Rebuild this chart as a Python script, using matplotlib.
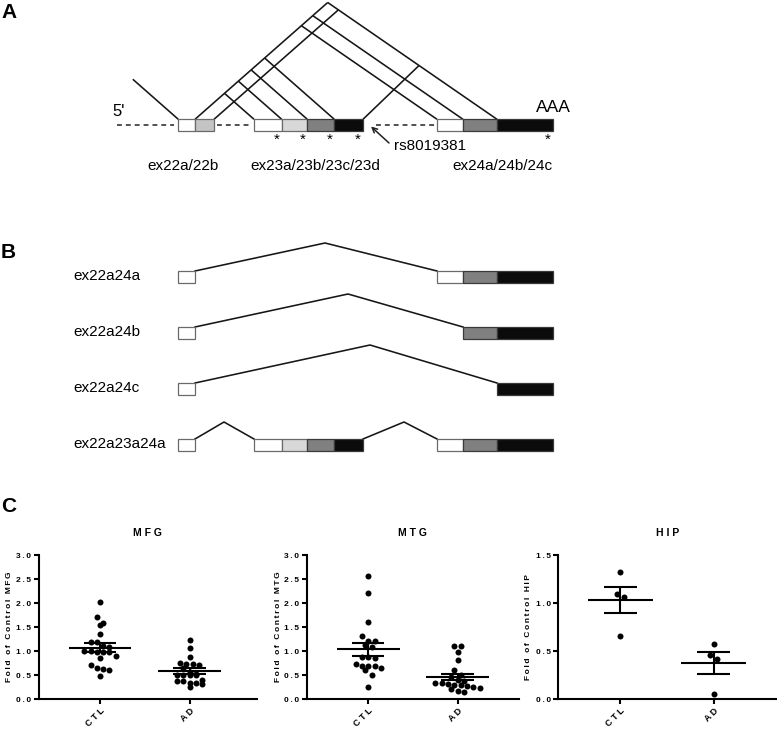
import numpy as np
import matplotlib
matplotlib.use('Agg')
import matplotlib.pyplot as plt
from matplotlib.patches import Rectangle

plt.rcParams['font.family'] = ['Liberation Sans', 'DejaVu Sans']

# ---------------- data ----------------
# Panel A: exon map (schematic units = pixels of the figure)
exon_names = ['ex22a', 'ex22b', 'ex23a', 'ex23b', 'ex23c', 'ex23d', 'ex24a', 'ex24b', 'ex24c']
exon_start = [178.3, 195.0, 254.0, 281.7, 307.3, 334.3, 437.0, 463.0, 497.0]
exon_end = [195.0, 214.0, 281.7, 307.3, 334.3, 363.0, 463.0, 497.0, 553.0]
exon_fill = ['white', '#c4c4c4', 'white', '#d8d8d8', '#808080', '#0b0b0b', 'white', '#808080', '#0b0b0b']
star_exons = ['ex23a', 'ex23b', 'ex23c', 'ex23d', 'ex24c']
intron_dashes = [(117, 174), (217, 252), (376, 435)]
group_labels = ['ex22a/22b', 'ex23a/23b/23c/23d', 'ex24a/24b/24c']
group_label_x = [183, 315, 502]
rs_label = 'rs8019381'

# Panel B: isoforms
iso_names = ['ex22a24a', 'ex22a24b', 'ex22a24c', 'ex22a23a24a']
iso_exons = [['ex22a', 'ex24a', 'ex24b', 'ex24c'],
             ['ex22a', 'ex24b', 'ex24c'],
             ['ex22a', 'ex24c'],
             ['ex22a', 'ex23a', 'ex23b', 'ex23c', 'ex23d', 'ex24a', 'ex24b', 'ex24c']]
iso_introns = [[('ex22a', 'ex24a')], [('ex22a', 'ex24b')], [('ex22a', 'ex24c')],
               [('ex22a', 'ex23a'), ('ex23d', 'ex24a')]]
iso_apex_x = [[325], [348], [370], [224, 404]]
iso_apex_rise = [[28], [33], [38], [17, 17]]

# Panel C: fold of control values
regions = ['MFG', 'MTG', 'HIP']
groups = ['CTL', 'AD']
mfg_ctl = [2.03, 1.70, 1.59, 1.54, 1.35, 1.19, 1.18, 1.11, 1.09, 1.00, 0.97,
           0.99, 0.97, 0.98, 0.86, 0.89, 0.70, 0.62, 0.60, 0.64, 0.47]
mfg_ad = [1.22, 1.06, 0.88, 0.73, 0.71, 0.72, 0.76, 0.64, 0.56, 0.50, 0.51,
          0.50, 0.51, 0.53, 0.38, 0.34, 0.34, 0.38, 0.40, 0.26, 0.32]
mtg_ctl = [2.56, 2.20, 1.61, 1.31, 1.20, 1.21, 1.13, 1.08, 0.87, 0.87, 0.85,
           0.73, 0.68, 0.68, 0.61, 0.65, 0.69, 0.50, 0.24]
mtg_ad = [1.11, 1.11, 0.98, 0.82, 0.60, 0.50, 0.46, 0.40, 0.37, 0.33, 0.32,
          0.30, 0.30, 0.28, 0.26, 0.22, 0.21, 0.16, 0.15, 0.33]
hip_ctl = [1.32, 1.09, 1.06, 0.66]
hip_ad = [0.575, 0.46, 0.415, 0.055]
region_data = {'MFG': (mfg_ctl, mfg_ad), 'MTG': (mtg_ctl, mtg_ad), 'HIP': (hip_ctl, hip_ad)}
region_ymax = {'MFG': 3.0, 'MTG': 3.0, 'HIP': 1.5}
region_yticks = {'MFG': np.arange(0, 3.01, 0.5), 'MTG': np.arange(0, 3.01, 0.5),
                 'HIP': np.arange(0, 1.51, 0.5)}

# ---------------- figure ----------------
W, H = 777, 730
fig = plt.figure(figsize=(W / 100, H / 100), dpi=100)
cv = fig.add_axes([0, 0, 1, 1])
cv.set_xlim(0, W)
cv.set_ylim(H, 0)
cv.axis('off')

LINE_C = '#161616'
LW = 1.15
BOX_H = 11.7
TXT = 11


def ex(name):
    i = exon_names.index(name)
    return exon_start[i], exon_end[i], exon_fill[i]


def draw_box(name, ytop):
    x0, x1, fc = ex(name)
    light = fc == 'white' or fc.startswith('#c') or fc.startswith('#d')
    cv.add_patch(Rectangle((x0, ytop), x1 - x0, BOX_H, facecolor=fc,
                           edgecolor='#6a6a6a' if light else '#3a3a3a',
                           lw=0.9, zorder=3))


def seg(p, q):
    cv.plot([p[0], q[0]], [p[1], q[1]], color=LINE_C, lw=LW, zorder=2,
            solid_capstyle='butt')


# ---- Panel A ----
A_TOP = 119.3
S_UP = 0.88      # slope of donor lines and exon-23 acceptor lines
S_24 = 0.69      # slope of exon-24 acceptor lines
S_23D = 0.96     # slope of line leaving exon 23d

cv.text(1, 12, 'A', fontsize=15, fontweight='bold', va='center', ha='left')
for a, b in intron_dashes:
    cv.plot([a, b], [A_TOP + BOX_H / 2] * 2, color='#222222', lw=1.1,
            dashes=(3.2, 2.6))
for n in exon_names:
    draw_box(n, A_TOP)

d1 = ex('ex22a')[1]
d2 = ex('ex22b')[1]
d3 = ex('ex23d')[1]
a0 = ex('ex22a')[0]
seg((a0 - 45.5, A_TOP - S_UP * 45.5), (a0, A_TOP))
for n in ['ex23a', 'ex23b', 'ex23c', 'ex23d']:
    acc = ex(n)[0]
    xn = (d1 + acc) / 2
    seg((xn, A_TOP - S_UP * (xn - d1)), (acc, A_TOP))
for n in ['ex24a', 'ex24b', 'ex24c']:
    acc = ex(n)[0]
    xn = (S_UP * d1 + S_24 * acc) / (S_UP + S_24)
    seg((xn, A_TOP - S_UP * (xn - d1)), (acc, A_TOP))
acc_c = ex('ex24c')[0]
x_apex = (S_UP * d1 + S_24 * acc_c) / (S_UP + S_24)
seg((d1, A_TOP), (x_apex, A_TOP - S_UP * (x_apex - d1)))
x2 = (S_UP * d2 + S_24 * acc_c) / (S_UP + S_24)
seg((d2, A_TOP), (x2, A_TOP - S_UP * (x2 - d2)))
x3 = (S_23D * d3 + S_24 * acc_c) / (S_23D + S_24)
seg((d3, A_TOP), (x3, A_TOP - S_23D * (x3 - d3)))

cv.text(119, 111, "5'", fontsize=12, ha='center', va='center')
cv.text(553, 107, 'AAA', fontsize=12.5, ha='center', va='center')
for n in star_exons:
    cv.text(ex(n)[1] - 5, A_TOP + BOX_H + 1.5, '*', fontsize=11, ha='center', va='top')
cv.annotate('', xy=(371, 126.5), xytext=(389, 143),
            arrowprops=dict(arrowstyle='->', lw=1.1, color='#222222',
                            shrinkA=0, shrinkB=0, mutation_scale=9))
cv.text(394, 146, rs_label, fontsize=TXT, ha='left', va='center')
for lab, x in zip(group_labels, group_label_x):
    cv.text(x, 166, lab, fontsize=TXT, ha='center', va='center')

# ---- Panel B ----
cv.text(1, 253, 'B', fontsize=15, fontweight='bold', va='center', ha='left')
B_TOPS = [271, 327, 383, 439]
for name, exs, ints, axs, rises, yt in zip(iso_names, iso_exons, iso_introns,
                                           iso_apex_x, iso_apex_rise, B_TOPS):
    cv.text(73, yt + BOX_H / 2 - 1, name, fontsize=TXT, ha='left', va='center')
    for n in exs:
        draw_box(n, yt)
    for (dn, an), xa, r in zip(ints, axs, rises):
        don = ex(dn)[1]
        acc = ex(an)[0]
        cv.plot([don, xa, acc], [yt, yt - r, yt], color=LINE_C, lw=LW, zorder=2)

# ---- Panel C ----
cv.text(1, 507, 'C', fontsize=15, fontweight='bold', va='center', ha='left')


def spaced(s, sep='\u2009'):
    return sep.join(s)


ax_px = {'MFG': (38.5, 257.0, (0.313, 2.754)),
         'MTG': (306.7, 519.0, (0.308, 2.69)),
         'HIP': (558.3, 776.0, (0.333, 2.67))}
ylab_x = {'MFG': 10, 'MTG': 278, 'HIP': 528}
AX_TOP, AX_BOT = 555.0, 699.0
DOT_PX = 6.0


def prism_scatter(ax, xc, vals, diam):
    """Prism-style column scatter: points within one dot height share a row,
    rows are spread symmetrically about the column centre."""
    vals = np.asarray(vals, float)
    ys = ax.transData.transform(np.column_stack([np.full(len(vals), xc), vals]))[:, 1]
    ppu = ax.transData.transform((1, 0))[0] - ax.transData.transform((0, 0))[0]
    order = np.argsort(-vals, kind='stable')
    rows, cur = [], []
    for i in order:
        if cur and ys[cur[0]] - ys[i] > diam * 0.9:
            rows.append(cur)
            cur = []
        cur.append(i)
    if cur:
        rows.append(cur)
    xs = np.full(len(vals), float(xc))
    for row in rows:
        n = len(row)
        for k, i in enumerate(row):
            off = (k - (n - 1) / 2) * diam * 1.05
            xs[i] = xc + off / ppu
    # alternate so the higher value of a pair tends to sit left
    return xs


for reg in regions:
    l, r, xl = ax_px[reg]
    ax = fig.add_axes([l / W, 1 - AX_BOT / H, (r - l) / W, (AX_BOT - AX_TOP) / H])
    ax.set_xlim(*xl)
    ax.set_ylim(0, region_ymax[reg])
    for s in ['top', 'right']:
        ax.spines[s].set_visible(False)
    for s in ['left', 'bottom']:
        ax.spines[s].set_linewidth(1.5)
    ax.set_yticks(region_yticks[reg])
    ax.set_yticklabels([spaced('%.1f' % t) for t in region_yticks[reg]],
                       fontsize=6, fontweight='bold')
    ax.set_xticks([1, 2])
    ax.set_xticklabels([spaced(g, ' ') for g in groups], fontsize=6.5,
                       fontweight='bold', rotation=45, ha='right',
                       rotation_mode='anchor')
    ax.tick_params(axis='both', length=3.5, width=1.5, pad=2)
    ax.patch.set_alpha(0)
    for xc, vals in zip([1, 2], region_data[reg]):
        xs = prism_scatter(ax, xc, vals, DOT_PX)
        ax.plot(xs, vals, 'o', color='black', ms=DOT_PX * 0.72, mew=0,
                clip_on=False, zorder=3)
        m = np.mean(vals)
        se = np.std(vals, ddof=1) / np.sqrt(len(vals))
        ax.hlines(m, xc - 0.35, xc + 0.35, color='black', lw=1.5, zorder=4)
        ax.vlines(xc, m - se, m + se, color='black', lw=1.5, zorder=4)
        ax.hlines([m - se, m + se], xc - 0.18, xc + 0.18, color='black', lw=1.5, zorder=4)
    fig.text((l + r) / 2 / W, 1 - 533 / H, spaced(reg, ' '), fontsize=7.5,
             fontweight='bold', ha='center', va='center')
    fig.text(ylab_x[reg] / W, 1 - (AX_TOP + AX_BOT) / 2 / H,
             spaced('Fold of Control ' + reg), fontsize=6, fontweight='bold',
             rotation=90, ha='center', va='center')

fig.savefig('out.png', dpi=100)
